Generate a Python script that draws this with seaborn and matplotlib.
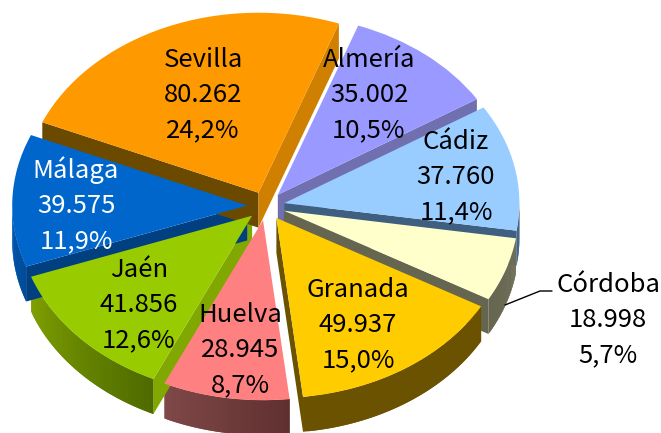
import matplotlib
matplotlib.use('Agg')
import matplotlib.pyplot as plt
import matplotlib.colors as mcolors
import seaborn as sns
import numpy as np

provincias = ['Almería', 'Cádiz', 'Córdoba', 'Granada', 'Huelva', 'Jaén', 'Málaga', 'Sevilla']
valores = [35002, 37760, 18998, 49937, 28945, 41856, 39575, 80262]
etiquetas = ['35.002', '37.760', '18.998', '49.937', '28.945', '41.856', '39.575', '80.262']
porcentajes = ['10,5%', '11,4%', '5,7%', '15,0%', '8,7%', '12,6%', '11,9%', '24,2%']
colores = ['#9999FF', '#99CCFF', '#FFFFCC', '#FFCC00', '#FF8080', '#99CC00', '#0066CC', '#FF9900']
borde_izq = ['#4D4D80', '#3F5F80', '#666650', '#6B5200', '#804848', '#7FA000', '#0059B3', '#6B4A00']
borde_der = ['#4D4D80', '#3F5F80', '#70705A', '#6B5200', '#603030', '#4F6B00', '#004C99', '#6B4A00']
cara_inicio = [None, None, None, None, None, '#80A800', '#004080', '#6B4A00']
cara_fin = ['#7070B0', '#3F5F80', '#666650', '#6B5200', None, None, None, '#D08000']
color_texto = ['black', 'black', 'black', 'black', 'black', 'black', 'white', 'black']
pos_x = [369, 456, 608, 358, 240, 139, 76, 203]
pos_y = [95, 177, 320, 325, 350, 305, 205, 95]

inicio = 70
separacion = 0.08
fondo = 0.194

sns.set_theme(style='white')
plt.rcParams['font.family'] = ['Noto Sans CJK SC', 'DejaVu Sans']

fig = plt.figure(figsize=(6.61, 4.33), dpi=100)
ax = fig.add_axes([0, 0, 1, 1])
explode = [separacion] * len(valores)

angulos = inicio - np.cumsum([0] + valores) / sum(valores) * 360
for i in range(len(valores)):
    a1, a2 = np.radians(angulos[i]), np.radians(angulos[i + 1])
    media = (a1 + a2) / 2
    cx, cy = separacion * np.cos(media), separacion * np.sin(media)

    # borde exterior, con degradado de izquierda a derecha
    arco = np.linspace(a1, a2, 40)
    arco = arco[np.sin(arco) < 0.02]
    if len(arco) > 1:
        xs = cx + np.cos(arco)
        ys = cy + np.sin(arco)
        c0, c1 = np.array(mcolors.to_rgb(borde_izq[i])), np.array(mcolors.to_rgb(borde_der[i]))
        # cada tramo pisa al siguiente para que no queden rayas
        orden = np.argsort(xs)
        xs, ys = xs[orden], ys[orden]
        for j in range(len(arco) - 1):
            fin = min(j + 3, len(arco))
            t = j / max(len(arco) - 2, 1)
            ax.fill(np.r_[xs[j:fin], xs[j:fin][::-1]],
                    np.r_[ys[j:fin], ys[j:fin][::-1] - fondo],
                    color=c0 + (c1 - c0) * t, lw=0)

    # caras de corte
    for a, color in [(a1, cara_inicio[i]), (a2, cara_fin[i])]:
        if color is None:
            continue
        bx, by = cx + np.cos(a), cy + np.sin(a)
        ax.fill([cx, bx, bx, cx], [cy, by, by - fondo, cy - fondo], color=color, lw=0)

ax.pie(valores, explode=explode, colors=colores, startangle=inicio, counterclock=False,
       center=(0, 0), radius=1, wedgeprops={'linewidth': 0})

ax.set_aspect('auto')
ax.set_xlim(-1.132, 1.681)
ax.set_ylim(-1.261, 1.144)

for i, nombre in enumerate(provincias):
    ax.annotate(f'{nombre}\n{etiquetas[i]}\n{porcentajes[i]}', xy=(pos_x[i] / 661, 1 - pos_y[i] / 433),
                xycoords='axes fraction', ha='center', va='center', fontsize=18.5,
                color=color_texto[i], linespacing=1.45)

ax.plot([505 / 661, 540 / 661, 552 / 661], [1 - 305 / 433, 1 - 291 / 433, 1 - 291 / 433],
        color='black', lw=1, transform=ax.transAxes)
fig.savefig('out.png', dpi=100)
